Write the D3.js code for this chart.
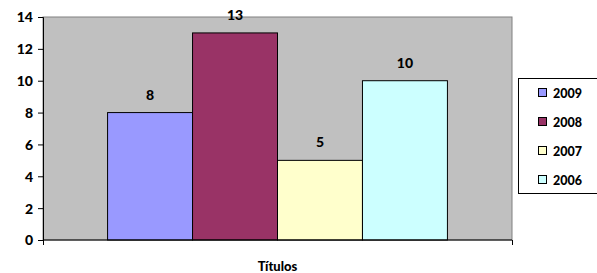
<!DOCTYPE html>
<html><head><meta charset="utf-8">
<script src="https://cdn.jsdelivr.net/npm/d3@7"></script>
<style>body{margin:0;background:#fff;} text{font-family:Lato,"Liberation Sans",sans-serif;font-weight:900;}</style>
</head><body>
<svg id="c" width="597" height="273"></svg>
<script>
const categories = ["Títulos"];
const seriesNames = ["2009", "2008", "2007", "2006"];
const seriesValues = [8, 13, 5, 10];
const seriesColors = ["#9999FF", "#993366", "#FFFFCC", "#CCFFFF"];
const yTicks = [0, 2, 4, 6, 8, 10, 12, 14];

const svg = d3.select("#c");
const L = 43, R = 512, T = 17, B = 240;

const x0 = d3.scaleBand().domain(categories).range([L, R]).paddingInner(0).paddingOuter(0.19);
const x1 = d3.scaleBand().domain(seriesNames).range([0, x0.bandwidth()]).padding(0);
const y = d3.scaleLinear().domain([0, 14]).range([B, T]);

svg.append("rect").attr("x", L).attr("y", T).attr("width", R - L).attr("height", B - T)
  .attr("fill", "#C0C0C0").attr("stroke", "#808080").attr("stroke-width", 1);

const g = svg.append("g");
seriesNames.forEach((s, i) => {
  const bx = x0(categories[0]) + x1(s);
  g.append("rect").attr("x", bx).attr("y", y(seriesValues[i]))
    .attr("width", x1.bandwidth()).attr("height", y(0) - y(seriesValues[i]))
    .attr("fill", seriesColors[i]).attr("stroke", "#000").attr("stroke-width", 1);
  g.append("text").attr("x", bx + x1.bandwidth() / 2).attr("y", y(seriesValues[i]) - 13)
    .attr("text-anchor", "middle").attr("font-size", 14).text(seriesValues[i]);
});

const yAxis = svg.append("g").attr("transform", `translate(${L},0)`)
  .call(d3.axisLeft(y).tickValues(yTicks).tickSize(5).tickPadding(5));
yAxis.selectAll("text").attr("font-size", 14).attr("fill", "#000").attr("font-family", "Lato").attr("dy", "0.35em");
yAxis.select(".domain").attr("stroke", "#000");
yAxis.selectAll(".tick line").attr("stroke", "#000");

const xs = d3.scaleLinear().domain([0, 1]).range([L, R]);
const xAxis = svg.append("g").attr("transform", `translate(0,${B})`)
  .call(d3.axisBottom(xs).tickValues([0, 1]).tickSize(5).tickFormat(""));
xAxis.select(".domain").attr("stroke", "#000").attr("d", `M${L},0H${R}`);
xAxis.selectAll(".tick line").attr("stroke", "#000");

svg.append("text").attr("x", x0(categories[0]) + x0.bandwidth() / 2).attr("y", 271)
  .attr("text-anchor", "middle").attr("font-size", 13).text(categories[0]);

const lg = svg.append("g");
lg.append("rect").attr("x", 518.5).attr("y", 78.5).attr("width", 85).attr("height", 115)
  .attr("fill", "#fff").attr("stroke", "#000");
const ly = d3.scalePoint().domain(seriesNames).range([93, 180]);
seriesNames.forEach((s, i) => {
  lg.append("rect").attr("x", 538.5).attr("y", ly(s) - 4.5).attr("width", 8).attr("height", 8)
    .attr("fill", seriesColors[i]).attr("stroke", "#000");
  lg.append("text").attr("x", 553).attr("y", ly(s) + 5).attr("font-size", 12.5).text(s);
});
</script>
</body></html>
